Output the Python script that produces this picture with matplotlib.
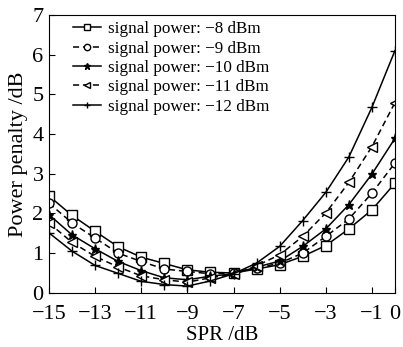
import matplotlib
matplotlib.use("Agg")
import matplotlib.pyplot as plt

plt.rcParams['font.family'] = ['Liberation Serif', 'DejaVu Serif']

spr = [-15, -14, -13, -12, -11, -10, -9, -8, -7, -6, -5, -4, -3, -2, -1, 0]

pp_m8 = [2.44, 1.95, 1.55, 1.16, 0.90, 0.74, 0.58, 0.52, 0.50, 0.60, 0.71, 0.92, 1.19, 1.61, 2.09, 2.76]
pp_m9 = [2.26, 1.76, 1.38, 1.00, 0.79, 0.60, 0.54, 0.48, 0.50, 0.62, 0.75, 1.00, 1.42, 1.86, 2.51, 3.27]
pp_m10 = [1.97, 1.46, 1.11, 0.79, 0.56, 0.38, 0.33, 0.42, 0.48, 0.65, 0.80, 1.17, 1.61, 2.22, 2.99, 3.89]
pp_m11 = [1.76, 1.27, 0.92, 0.65, 0.43, 0.33, 0.27, 0.38, 0.47, 0.68, 0.96, 1.42, 2.01, 2.78, 3.68, 4.79]
pp_m12 = [1.51, 1.05, 0.69, 0.49, 0.29, 0.21, 0.17, 0.30, 0.48, 0.75, 1.17, 1.82, 2.53, 3.42, 4.67, 6.10]

labels = ["signal power: \u22128 dBm", "signal power: \u22129 dBm",
          "signal power: \u221210 dBm", "signal power: \u221211 dBm",
          "signal power: \u221212 dBm"]
series = [pp_m8, pp_m9, pp_m10, pp_m11, pp_m12]
styles = [
    dict(ls='-', marker='s', mfc='white'),
    dict(ls=(0, (4, 2.5)), marker='o', mfc='white'),
    dict(ls='-', marker='*', mfc='black'),
    dict(ls=(0, (4, 2.5)), marker='<', mfc='white'),
    dict(ls='-', marker='+', mfc='black'),
]

fig = plt.figure(figsize=(4.03, 3.47), dpi=100)
ax = fig.add_axes([0.1216, 0.156, 0.8584, 0.801])

for y, lab, st in zip(series, labels, styles):
    ax.plot(spr, y, color='black', lw=1.1, ms=6.5, mec='black', mew=1.0,
            label=lab, **st)

ax.set_xlim(-15, 0)
ax.set_ylim(0, 7)
ax.set_xticks([-15, -13, -11, -9, -7, -5, -3, -1, 0])
ax.set_xticklabels(['\u221215', '\u221213', '\u221211', '\u22129', '\u22127',
                    '\u22125', '\u22123', '\u22121', '0'])
ax.set_yticks(range(0, 8))
ax.tick_params(direction='in', length=4, width=0.8, labelsize=16,
               top=False, right=False)
ax.tick_params(axis='x', pad=9)
ax.tick_params(axis='y', pad=4)
for s in ax.spines.values():
    s.set_linewidth(0.8)

ax.set_xlabel('SPR /dB', fontsize=15, labelpad=1)
ax.set_ylabel('Power penalty /dB', fontsize=16, labelpad=3)

ax.legend(loc='upper left', bbox_to_anchor=(0.06, 0.99), frameon=False,
          fontsize=12.3, handlelength=1.6, handletextpad=0.45,
          labelspacing=0.2, borderaxespad=0.0, markerscale=0.7,
          borderpad=0.2)

fig.savefig('out.png', dpi=100)
